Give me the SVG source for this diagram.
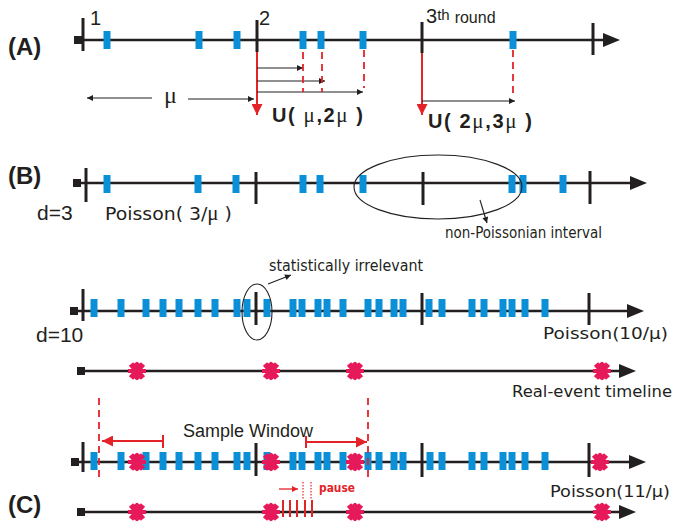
<svg xmlns="http://www.w3.org/2000/svg" width="677" height="523" viewBox="0 0 677 523">
<defs>
<style>
.ln{stroke:#231f20;stroke-width:2.6;fill:none}
.tk{stroke:#231f20;stroke-width:3}
.bl{fill:#0b8fd6}
.sq{fill:#231f20}
.hd{fill:#231f20}
.ra{stroke:#e42328;stroke-width:2;fill:none}
.rdash{stroke:#e42328;stroke-width:1.8;stroke-dasharray:7,5;fill:none}
.thin{stroke:#231f20;stroke-width:1.1;fill:none}
.lbl{font-family:"Liberation Sans",Arial,sans-serif;fill:#231f20}
.bold{font-family:"Liberation Sans",Arial,sans-serif;font-weight:bold;fill:#231f20}
.cm{font-family:"DejaVu Sans","Noto Sans",sans-serif;fill:#231f20}
.mu{font-family:"Liberation Serif","Times New Roman",serif;font-weight:normal}
</style>
<marker id="ah" viewBox="0 0 10 10" refX="10" refY="5" markerWidth="7" markerHeight="6" markerUnits="userSpaceOnUse" orient="auto"><path d="M0,0 L10,5 L0,10 Z" fill="#231f20"/></marker>
<marker id="rh" viewBox="0 0 10 10" refX="10" refY="5" markerWidth="14" markerHeight="11" markerUnits="userSpaceOnUse" orient="auto"><path d="M0,0 L10,5 L0,10 Z" fill="#e42328"/></marker>
<marker id="rs" viewBox="0 0 10 10" refX="10" refY="5" markerWidth="7" markerHeight="6" markerUnits="userSpaceOnUse" orient="auto"><path d="M0,0 L10,5 L0,10 Z" fill="#e42328"/></marker>
<rect id="b" class="bl" x="-3.5" y="-9" width="7" height="18"/>
<g id="x"><path d="M-6,-7 L6,7 M-6,7 L6,-7" stroke="#e6195a" stroke-width="5.5" fill="none"/><path d="M-9,0 L9,0 M-2,-8 L2,-3 M2,-8 L-2,-3 M-2,8 L2,3 M2,8 L-2,3" stroke="#e6195a" stroke-width="4" fill="none"/></g>
</defs>
<rect width="677" height="523" fill="#ffffff"/>

<!-- Row A -->
<g id="rowA">
<text class="bold" x="8" y="55" font-size="24">(A)</text>
<rect class="sq" x="74" y="36" width="8" height="8"/>
<line class="ln" x1="80" y1="40" x2="606" y2="40"/>
<polygon class="hd" points="603,33 620,40 603,47"/>
<line class="tk" x1="83" y1="18" x2="83" y2="51"/>
<line class="tk" x1="257" y1="20" x2="257" y2="52"/>
<line class="tk" x1="422" y1="22" x2="422" y2="53"/>
<line class="tk" x1="593" y1="23" x2="593" y2="55"/>
<use href="#b" x="107" y="40"/>
<use href="#b" x="199" y="40"/>
<use href="#b" x="237" y="40"/>
<use href="#b" x="303" y="40"/>
<use href="#b" x="321" y="40"/>
<use href="#b" x="363" y="40"/>
<use href="#b" x="513" y="40"/>
<text class="lbl" x="90" y="25" font-size="20">1</text>
<text class="lbl" x="259" y="25" font-size="20">2</text>
<text class="lbl" x="426" y="23" font-size="20">3<tspan font-size="15" dy="-3">th</tspan><tspan font-size="16" dy="3" dx="5">round</tspan></text>
<text class="lbl mu" x="164" y="103" font-size="24">μ</text>
<text class="bold" x="272" y="122" font-size="20" textLength="91" lengthAdjust="spacing">U( <tspan class="mu" font-size="21">μ</tspan>,2<tspan class="mu" font-size="21">μ</tspan> )</text>
<text class="bold" x="428" y="128" font-size="20" textLength="104" lengthAdjust="spacing">U( 2<tspan class="mu" font-size="21">μ</tspan>,3<tspan class="mu" font-size="21">μ</tspan> )</text>
</g>

<!-- Row B -->
<g id="rowB">
<text class="bold" x="8" y="184" font-size="24">(B)</text>
<rect class="sq" x="73" y="179" width="8" height="8"/>
<line class="ln" x1="80" y1="183" x2="633" y2="183"/>
<polygon class="hd" points="630,176 647,183 630,190"/>
<line class="tk" x1="86" y1="168" x2="86" y2="202"/>
<line class="tk" x1="256" y1="172" x2="256" y2="204"/>
<line class="tk" x1="423" y1="172" x2="423" y2="205"/>
<line class="tk" x1="590" y1="171" x2="590" y2="204"/>
<use href="#b" x="107" y="184"/>
<use href="#b" x="198" y="184"/>
<use href="#b" x="236" y="184"/>
<use href="#b" x="303" y="184"/>
<use href="#b" x="320" y="184"/>
<use href="#b" x="363" y="184"/>
<use href="#b" x="512" y="184"/>
<use href="#b" x="523" y="184"/>
<use href="#b" x="563" y="184"/>
<text class="lbl" x="37" y="220" font-size="21">d=3</text>
<text class="cm" x="105" y="220" font-size="18" textLength="127" lengthAdjust="spacingAndGlyphs">Poisson( 3/<tspan class="mu" font-size="20">μ</tspan> )</text>
<ellipse cx="438" cy="187" rx="84" ry="32" fill="none" stroke="#231f20" stroke-width="1.1"/>
<text class="cm" x="445" y="238" font-size="15" textLength="157" lengthAdjust="spacingAndGlyphs">non-Poissonian interval</text>
</g>

<!-- Row d=10 -->
<g id="rowD10">
<rect class="sq" x="70" y="307" width="8" height="8"/>
<line class="ln" x1="76" y1="311" x2="630" y2="311"/>
<polygon class="hd" points="627,304 644,311 627,318"/>
<line class="tk" x1="83" y1="289" x2="83" y2="321"/>
<line class="tk" x1="256" y1="292" x2="256" y2="325"/>
<line class="tk" x1="422" y1="293" x2="422" y2="325"/>
<line class="tk" x1="589" y1="293" x2="589" y2="325"/>
<g transform="translate(0,308)">
<use href="#b" x="94"/><use href="#b" x="121"/><use href="#b" x="146"/><use href="#b" x="163"/><use href="#b" x="179"/><use href="#b" x="198"/><use href="#b" x="215"/><use href="#b" x="237"/><use href="#b" x="247"/><use href="#b" x="267"/><use href="#b" x="293"/><use href="#b" x="302"/><use href="#b" x="318"/><use href="#b" x="327"/><use href="#b" x="343"/><use href="#b" x="368"/><use href="#b" x="379"/><use href="#b" x="394"/><use href="#b" x="403"/><use href="#b" x="429"/><use href="#b" x="442"/><use href="#b" x="472"/><use href="#b" x="484"/><use href="#b" x="503"/><use href="#b" x="512"/><use href="#b" x="525"/><use href="#b" x="545"/>
</g>
<ellipse cx="257" cy="312" rx="15" ry="28" fill="none" stroke="#231f20" stroke-width="1.1"/>
<text class="cm" x="269" y="271" font-size="15" textLength="154" lengthAdjust="spacingAndGlyphs">statistically irrelevant</text>
<text class="lbl" x="36" y="342" font-size="21">d=10</text>
<text class="cm" x="543" y="339" font-size="16.5" textLength="125" lengthAdjust="spacingAndGlyphs">Poisson(10/μ)</text>
</g>

<!-- Real-event timeline -->
<g id="rowReal">
<rect class="sq" x="77" y="367" width="8" height="8"/>
<line class="ln" x1="83" y1="371" x2="622" y2="371"/>
<polygon class="hd" points="619,364 636,371 619,378"/>
<use href="#x" x="137" y="371"/>
<use href="#x" x="271" y="371"/>
<use href="#x" x="355" y="371"/>
<use href="#x" x="602" y="371"/>
<text class="cm" x="512" y="397" font-size="16.5" textLength="160" lengthAdjust="spacingAndGlyphs">Real-event timeline</text>
</g>

<!-- Row C upper -->
<g id="rowC1">
<rect class="sq" x="71" y="458" width="8" height="8"/>
<line class="ln" x1="77" y1="462" x2="632" y2="462"/>
<polygon class="hd" points="629,455 646,462 629,469"/>
<line class="tk" x1="83" y1="442" x2="83" y2="472"/>
<line class="tk" x1="256" y1="443" x2="256" y2="476"/>
<line class="tk" x1="422" y1="443" x2="422" y2="477"/>
<line class="tk" x1="589" y1="443" x2="589" y2="477"/>
<g transform="translate(0,461)">
<use href="#b" x="94"/><use href="#b" x="121"/><use href="#b" x="146"/><use href="#b" x="163"/><use href="#b" x="179"/><use href="#b" x="198"/><use href="#b" x="215"/><use href="#b" x="237"/><use href="#b" x="247"/><use href="#b" x="267"/><use href="#b" x="293"/><use href="#b" x="302"/><use href="#b" x="318"/><use href="#b" x="327"/><use href="#b" x="343"/><use href="#b" x="368"/><use href="#b" x="379"/><use href="#b" x="394"/><use href="#b" x="403"/><use href="#b" x="430"/><use href="#b" x="442"/><use href="#b" x="472"/><use href="#b" x="484"/><use href="#b" x="503"/><use href="#b" x="512"/><use href="#b" x="525"/><use href="#b" x="545"/>
</g>
<use href="#x" x="137" y="462"/>
<use href="#x" x="271" y="462"/>
<use href="#x" x="355" y="462"/>
<use href="#x" x="600" y="462"/>
<text class="lbl" x="183" y="437" font-size="18">Sample Window</text>
<text class="cm" x="550" y="497" font-size="16.5" textLength="120" lengthAdjust="spacingAndGlyphs">Poisson(11/μ)</text>
</g>

<!-- Row C lower -->
<g id="rowC2">
<text class="bold" x="8" y="513" font-size="24">(C)</text>
<rect class="sq" x="77" y="508" width="8" height="8"/>
<line class="ln" x1="83" y1="512" x2="622" y2="512"/>
<polygon class="hd" points="619,505 636,512 619,519"/>
<g stroke="#e42328" stroke-width="2">
<line x1="283" y1="500" x2="283" y2="517"/>
<line x1="290" y1="500" x2="290" y2="517"/>
<line x1="297" y1="500" x2="297" y2="517"/>
<line x1="305" y1="500" x2="305" y2="517"/>
<line x1="312" y1="500" x2="312" y2="517"/>
</g>
<use href="#x" x="137" y="512"/>
<use href="#x" x="271" y="512"/>
<use href="#x" x="355" y="512"/>
<use href="#x" x="602" y="512"/>
<line x1="303" y1="482" x2="303" y2="500" stroke="#e42328" stroke-width="1.2" stroke-dasharray="1.5,1.5"/>
<line x1="311" y1="482" x2="311" y2="500" stroke="#e42328" stroke-width="1.2" stroke-dasharray="1.5,1.5"/>
<text x="319" y="492" font-family="'DejaVu Sans',sans-serif" font-weight="bold" font-size="13" fill="#e42328" textLength="36" lengthAdjust="spacingAndGlyphs">pause</text>
</g>

<!-- Connectors -->
<g id="connectors">
<line class="ra" x1="257" y1="52" x2="257" y2="115" marker-end="url(#rh)"/>
<line class="ra" x1="422" y1="53" x2="422" y2="115" marker-end="url(#rh)"/>
<line class="thin" x1="257" y1="68" x2="303" y2="68" marker-end="url(#ah)"/>
<line class="thin" x1="257" y1="81" x2="325" y2="81" marker-end="url(#ah)"/>
<line class="thin" x1="257" y1="92" x2="363" y2="92" marker-end="url(#ah)"/>
<line class="thin" x1="422" y1="101" x2="515" y2="101" marker-end="url(#ah)"/>
<line class="rdash" x1="303" y1="52" x2="303" y2="92"/>
<line class="rdash" x1="322" y1="52" x2="322" y2="92"/>
<line class="rdash" x1="364" y1="50" x2="364" y2="88"/>
<line class="rdash" x1="513" y1="50" x2="513" y2="96"/>
<line class="thin" x1="152" y1="98" x2="87" y2="98" marker-end="url(#ah)"/>
<line class="thin" x1="188" y1="99" x2="254" y2="99" marker-end="url(#ah)"/>
<line class="thin" x1="480" y1="200" x2="487" y2="223" marker-end="url(#ah)"/>
<line class="thin" x1="268" y1="284" x2="291" y2="275" marker-end="url(#ah)"/>
<line class="rdash" x1="99" y1="398" x2="99" y2="480"/>
<line class="rdash" x1="368" y1="398" x2="368" y2="480"/>
<line class="ra" x1="163" y1="441" x2="102" y2="441" marker-end="url(#rh)"/>
<line class="ra" x1="163" y1="435" x2="163" y2="448"/>
<line class="ra" x1="306" y1="442" x2="367" y2="442" marker-end="url(#rh)"/>
<line class="ra" x1="306" y1="436" x2="306" y2="448"/>
<line x1="279" y1="489" x2="298" y2="489" stroke="#e42328" stroke-width="1.3" marker-end="url(#rs)"/>
</g>
</svg>
